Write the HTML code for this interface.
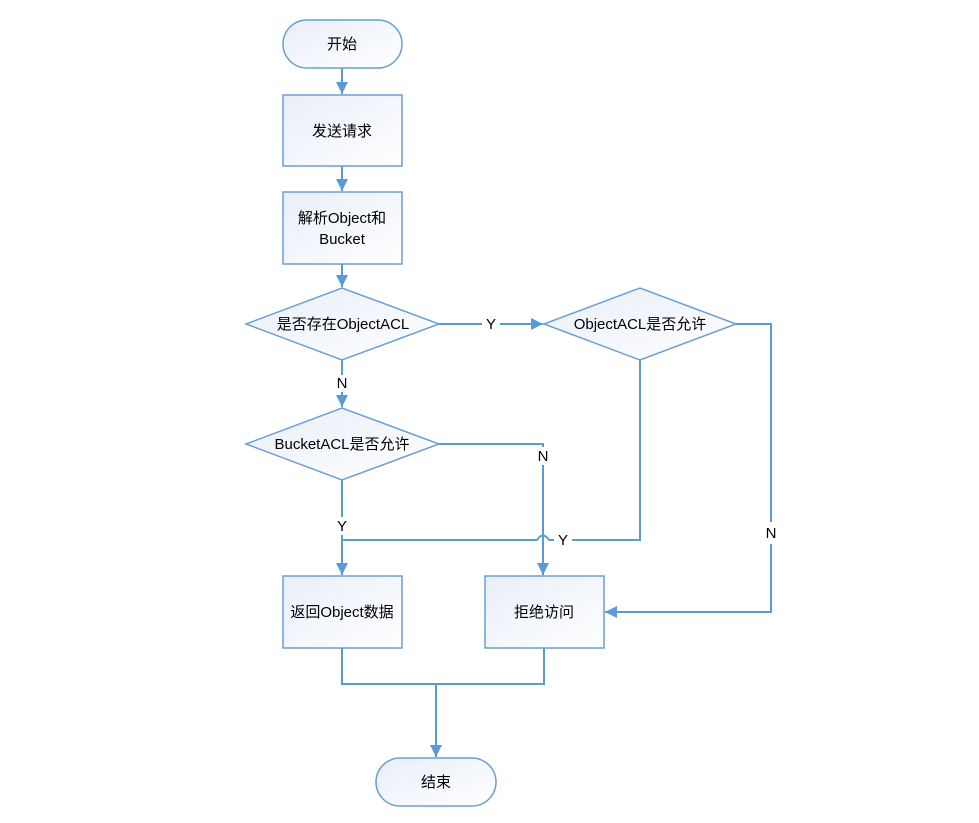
<!DOCTYPE html>
<html><head><meta charset="utf-8"><style>
html,body{margin:0;padding:0;background:#fff;}
svg text{font-family:"Liberation Sans","Noto Sans CJK SC",sans-serif;font-size:15px;fill:#000;}
</style></head><body>
<svg width="979" height="818" viewBox="0 0 979 818" xmlns="http://www.w3.org/2000/svg">
<defs>
<linearGradient id="g" x1="0" y1="0" x2="1" y2="1">
<stop offset="0" stop-color="#e8eef8"/><stop offset="1" stop-color="#ffffff"/>
</linearGradient>
<marker id="a" markerWidth="14" markerHeight="14" refX="12" refY="6" orient="auto" markerUnits="userSpaceOnUse">
<path d="M0,0 L12,6 L0,12 z" fill="#5b9bd5"/>
</marker>
</defs>
<g fill="url(#g)" stroke="#6a9fd4" stroke-width="1.5">
<rect x="283" y="20" width="119" height="48" rx="24"/>
<rect x="283" y="95" width="119" height="71"/>
<rect x="283" y="192" width="119" height="72"/>
<polygon points="246,324 342,288 439,324 342,360"/>
<polygon points="544,324 640,288 736,324 640,360"/>
<polygon points="246,444 342,408 439,444 342,480"/>
<rect x="283" y="576" width="119" height="72"/>
<rect x="485" y="576" width="119" height="72"/>
<rect x="376" y="758" width="120" height="48" rx="24"/>
</g>
<g fill="none" stroke="#5b9bd5" stroke-width="2">
<line x1="342" y1="68" x2="342" y2="94" marker-end="url(#a)"/>
<line x1="342" y1="166" x2="342" y2="191" marker-end="url(#a)"/>
<line x1="342" y1="264" x2="342" y2="287" marker-end="url(#a)"/>
<polyline points="439,324 482,324"/><line x1="500" y1="324" x2="543" y2="324" marker-end="url(#a)"/>
<polyline points="342,360 342,375"/><line x1="342" y1="392" x2="342" y2="407" marker-end="url(#a)"/>
<polyline points="736,324 771,324 771,522"/><polyline points="771,544 771,612 605,612" marker-end="url(#a)"/>
<polyline points="640,360 640,540 572,540"/>
<path d="M554,540 L549,540 Q543,531 537,540 L342,540"/>
<polyline points="342,480 342,517"/>
<line x1="342" y1="535" x2="342" y2="575" marker-end="url(#a)"/>
<polyline points="439,444 543,444 543,447"/>
<line x1="543" y1="465" x2="543" y2="575" marker-end="url(#a)"/>
<polyline points="342,648 342,684 544,684 544,648"/>
<line x1="436" y1="684" x2="436" y2="757" marker-end="url(#a)"/>
</g>
<g text-anchor="middle">
<text x="342" y="49">开始</text>
<text x="342" y="136">发送请求</text>
<text x="342" y="223">解析Object和</text>
<text x="342" y="244">Bucket</text>
<text x="343" y="329">是否存在ObjectACL</text>
<text x="640" y="329">ObjectACL是否允许</text>
<text x="342" y="449">BucketACL是否允许</text>
<text x="342" y="617">返回Object数据</text>
<text x="544" y="617">拒绝访问</text>
<text x="436" y="787">结束</text>
<text x="491" y="329" font-size="14">Y</text>
<text x="342" y="388" font-size="14">N</text>
<text x="543" y="461" font-size="14">N</text>
<text x="342" y="531" font-size="14">Y</text>
<text x="563" y="545" font-size="14">Y</text>
<text x="771" y="538" font-size="14">N</text>
</g>
</svg>
</body></html>
